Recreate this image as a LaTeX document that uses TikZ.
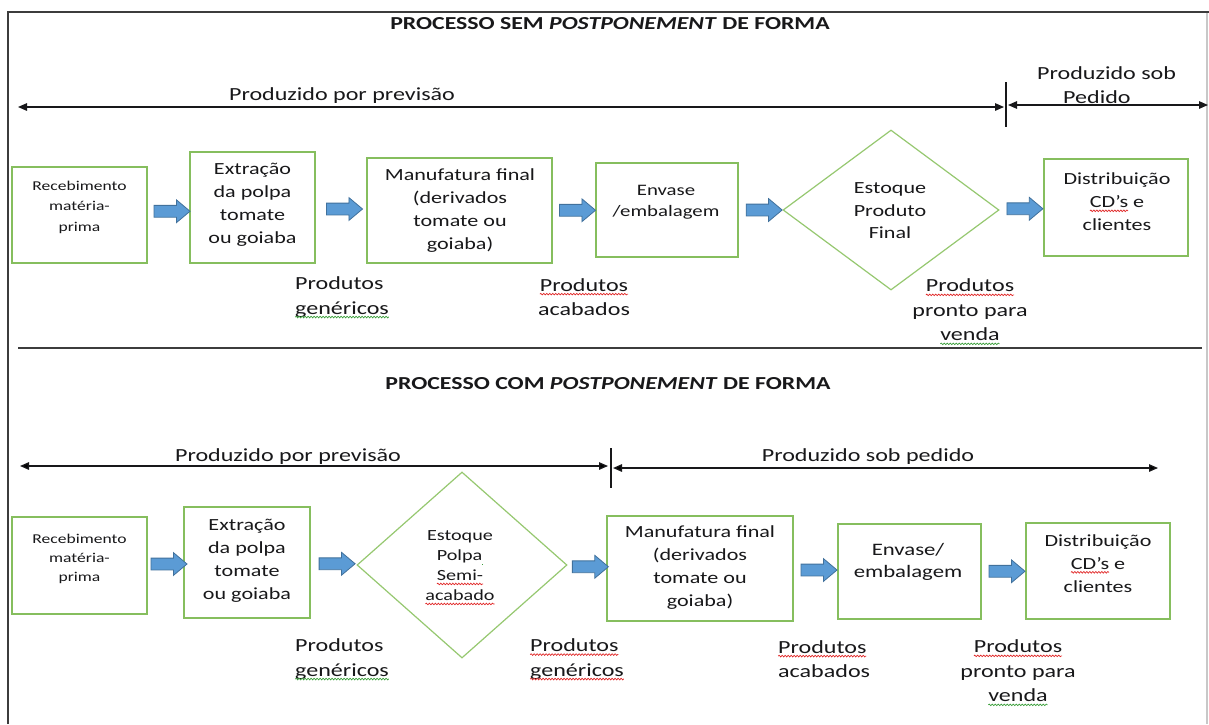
\documentclass[tikz,border=0pt]{standalone}
\usepackage{fontspec}
\setmainfont{Carlito}[FakeStretch=1.3]
\usetikzlibrary{shapes.geometric,shapes.arrows,arrows.meta,calc,decorations.pathmorphing}

\definecolor{ink}{RGB}{24,24,26}
\definecolor{boxgreen}{RGB}{134,190,94}
\definecolor{diagreen}{RGB}{150,200,112}
\definecolor{arrowblue}{RGB}{91,155,213}
\definecolor{arrowedge}{RGB}{65,113,156}
\definecolor{framegray}{RGB}{60,60,60}
\definecolor{lightgray}{RGB}{200,200,200}
\definecolor{sqred}{RGB}{225,40,40}
\definecolor{sqgreen}{RGB}{60,160,60}

% word with a wavy proofing underline
\newcommand\wavy[2]{\tikz[baseline=(w.base)]{\node[inner sep=0pt,outer sep=0pt,align=none](w){#2};\draw[overlay,#1,line width=0.7pt,decorate,decoration={snake,amplitude=0.8pt,segment length=3pt}]([yshift=-3pt]w.base west)--([yshift=-3pt]w.base east);}}

\begin{document}
\begin{tikzpicture}[x=1pt,y=-1pt,
  stage/.style={draw=boxgreen,line width=1.7pt,inner sep=0pt},
  stock/.style={diamond,draw=diagreen,line width=1.2pt,inner sep=0pt},
  txt/.style={text=ink,align=center,inner sep=0pt},
  smalltext/.style={txt,font=\fontsize{13.5}{20.5}\selectfont},
  midtext/.style={txt,font=\fontsize{16}{21}\selectfont},
  boxtext/.style={txt,font=\fontsize{17}{23}\selectfont},
  stocktext/.style={txt,font=\fontsize{15.5}{20}\selectfont},
  lbl/.style={txt,font=\fontsize{18.5}{24.5}\selectfont},
  ttl/.style={text=ink,inner sep=0pt,font=\bfseries\fontsize{18.3}{22}\selectfont},
  barrow/.style={single arrow,draw=arrowedge,fill=arrowblue,line width=0.8pt,
    inner sep=5.5pt,single arrow head extend=5.5pt,single arrow tip angle=80,
    minimum height=36pt},
  span/.style={draw=ink,line width=1.3pt,{Triangle[length=9pt,width=7.5pt]}-{Triangle[length=9pt,width=7.5pt]}},
  tick/.style={draw=ink,line width=1.8pt},
  frame/.style={draw=framegray,line width=2pt},
  rule/.style={draw=framegray,line width=2pt}]

\useasboundingbox (0,0) rectangle (1209,724);
\fill[white] (0,0) rectangle (1209,724);

% outer frame and separator
\draw[frame] (8,724) -- (8,12) -- (1209,12);
\draw[draw=lightgray,line width=1.5pt] (1207,13) -- (1207,724);
\draw[rule] (18,348) -- (1202,348);

% ---------------- process without form postponement ----------------
\node[ttl] (title1) at (610,24) {PROCESSO SEM \textit{POSTPONEMENT} DE FORMA};

\coordinate (s1l) at (18,107);
\coordinate (s1m) at (1006,107);
\coordinate (s1r) at (1208,105);
\coordinate (k1t) at (1006,82);
\coordinate (k1b) at (1006,127);
\draw[tick] (k1t) -- (k1b);
\draw[span] (s1l) -- ([xshift=-2pt]s1m);
\draw[span] ([xshift=2pt]s1m |- s1r) -- (s1r);
\node[lbl] (fc1) at (342,96) {Produzido por previsão};
\node[lbl,align=left,anchor=west] (po1) at (1037,85) {Produzido sob\\\hspace*{26pt}Pedido};

\node[stage,minimum width=135pt,minimum height=96pt] (a1) at (79.5,215) {};
\node[smalltext] (a1t) at (79.5,207) {Recebimento\\matéria-\\prima};
\node[stage,minimum width=125pt,minimum height=111pt] (a2) at (252.5,207.5) {};
\node[boxtext] (a2t) at (252.5,205) {Extração\\da polpa\\tomate\\ou goiaba};
\node[stage,minimum width=185pt,minimum height=105pt] (a3) at (459.5,210.5) {};
\node[boxtext] (a3t) at (460,211) {Manufatura final\\(derivados\\tomate ou\\goiaba)};
\node[stage,minimum width=142pt,minimum height=94pt] (a4) at (667,210) {};
\node[midtext] (a4t) at (666,202) {Envase\\/embalagem};
\node[stock,minimum width=216pt,minimum height=160pt] (d1) at (891,210) {};
\node[boxtext,font=\fontsize{17}{22.5}\selectfont] (d1t) at (890,211) {Estoque\\Produto\\Final};
\node[stage,minimum width=144pt,minimum height=97pt] (a6) at (1116,207.5) {};
\node[boxtext] (a6t) at (1117,202) {Distribuição\\\wavy{sqred}{CD’s} e\\clientes};

\foreach \p/\q/\n in {a1/a2/ar1,a2/a3/ar2,a3/a4/ar3,a4/d1/ar4,d1/a6/ar5}
  \node[barrow] (\n) at ($(\p.east)!.5!(\q.west)$) {};

\node[lbl,align=left,anchor=west] (g1) at (295,297) {Produtos\\\wavy{sqgreen}{genéricos}};
\node[lbl] (c1) at (584,297) {\wavy{sqred}{Produtos}\\acabados};
\node[lbl] (v1) at (970,310) {\wavy{sqred}{Produtos}\\pronto para\\\wavy{sqgreen}{venda}};

% ---------------- process with form postponement ----------------
\node[ttl] (title2) at (608,384) {PROCESSO COM \textit{POSTPONEMENT} DE FORMA};

\coordinate (s2l) at (20,466);
\coordinate (s2m) at (611,466);
\coordinate (s2r) at (1158,468);
\coordinate (k2t) at (611,448);
\coordinate (k2b) at (611,488);
\draw[tick] (k2t) -- (k2b);
\draw[span] (s2l) -- ([xshift=-3pt]s2m);
\draw[span] ([xshift=2pt]s2m |- s2r) -- (s2r);
\node[lbl] (fc2) at (288,457) {Produzido por previsão};
\node[lbl] (po2) at (868,457) {Produzido sob pedido};

\node[stage,minimum width=135pt,minimum height=97pt] (b1) at (79.5,565.5) {};
\node[smalltext,font=\fontsize{13.5}{19}\selectfont] (b1t) at (79.5,559) {Recebimento\\matéria-\\prima};
\node[stage,minimum width=126pt,minimum height=111pt] (b2) at (247,562.5) {};
\node[boxtext] (b2t) at (247,560.5) {Extração\\da polpa\\tomate\\ou goiaba};
\node[stock,minimum width=210pt,minimum height=186pt] (d2) at (462,565) {};
\node[stocktext] (d2t) at (460,566) {Estoque\\Polpa\wavy{sqgreen}{\hspace{7pt}}\\\wavy{sqred}{Semi-}\\\wavy{sqred}{acabado}};
\node[stage,minimum width=186pt,minimum height=105pt] (b4) at (700,568.5) {};
\node[boxtext] (b4t) at (700,568) {Manufatura final\\(derivados\\tomate ou\\goiaba)};
\node[stage,minimum width=143pt,minimum height=95pt] (b5) at (909.5,571.5) {};
\node[boxtext,font=\fontsize{17.5}{22}\selectfont] (b5t) at (908,562) {Envase/\\embalagem};
\node[stage,minimum width=144pt,minimum height=96pt] (b6) at (1098,571) {};
\node[boxtext] (b6t) at (1098,563.5) {Distribuição\\\wavy{sqred}{CD’s} e\\clientes};

\foreach \p/\q/\n in {b1/b2/br1,b2/d2/br2,d2/b4/br3,b4/b5/br4,b5/b6/br5}
  \node[barrow] (\n) at ($(\p.east)!.5!(\q.west)$) {};

\node[lbl,align=left,anchor=west] (g2) at (295,659) {Produtos\\\wavy{sqgreen}{genéricos}};
\node[lbl,align=left,anchor=west] (g3) at (530,659) {\wavy{sqred}{Produtos}\\\wavy{sqred}{genéricos}};
\node[lbl,align=left,anchor=west] (c2) at (778,659) {\wavy{sqred}{Produtos}\\acabados};
\node[lbl] (v2) at (1018,671) {\wavy{sqred}{Produtos}\\pronto para\\\wavy{sqgreen}{venda}};

\end{tikzpicture}
\end{document}
